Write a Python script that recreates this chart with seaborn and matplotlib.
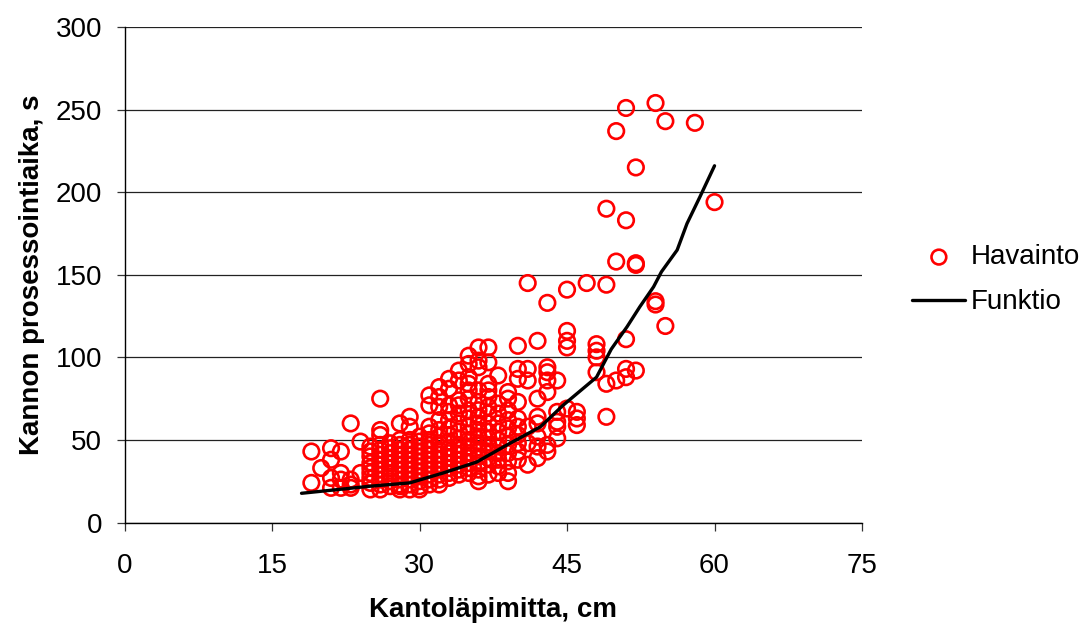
import matplotlib
matplotlib.use("Agg")
import matplotlib.pyplot as plt
import numpy as np
import pandas as pd
import seaborn as sns

# Observations: stump diameter (cm) -> list of processing times (s)
obs_by_diameter = {
    19: [43, 24],
    20: [33],
    21: [45, 38, 27, 21],
    22: [43, 30, 26, 21],
    23: [60, 26, 23, 21],
    24: [49, 30],
    25: [46, 43, 40, 36, 33, 30, 27, 24, 20],
    26: [75, 56, 53, 47, 44, 41, 38, 35, 32, 29, 26, 23, 20],
    27: [48, 45, 42, 39, 36, 33, 30, 28, 25, 22],
    28: [60, 50, 47, 44, 41, 38, 35, 32, 29, 26, 23, 20, 22],
    29: [64, 58, 50, 47, 44, 41, 38, 35, 32, 29, 26, 23, 20],
    30: [52, 49, 46, 43, 40, 37, 34, 31, 28, 25, 22, 20],
    31: [77, 71, 58, 54, 50, 47, 44, 41, 38, 35, 32, 29, 26, 23],
    32: [82, 76, 70, 62, 56, 52, 48, 44, 41, 38, 35, 32, 29, 26, 23],
    33: [87, 81, 71, 67, 62, 57, 53, 49, 45, 42, 39, 36, 33, 30, 27],
    34: [92, 86, 74, 71, 66, 60, 55, 51, 47, 44, 41, 38, 35, 32, 29],
    35: [101, 96, 88, 84, 80, 75, 68, 63, 58, 54, 50, 46, 42, 39, 36, 33, 30],
    36: [106, 98, 94, 80, 73, 68, 64, 60, 56, 52, 48, 44, 40, 36, 32, 28, 25],
    37: [106, 97, 84, 80, 76, 70, 66, 60, 55, 51, 47, 43, 39, 35, 29],
    38: [89, 72, 66, 60, 55, 50, 46, 42, 38, 34, 30],
    39: [79, 75, 68, 62, 57, 52, 47, 42, 37, 30, 25],
    40: [107, 93, 87, 73, 63, 58, 53, 48, 43, 38],
    41: [145, 93, 86, 58, 48, 35],
    42: [110, 75, 64, 60, 52, 46, 39],
    43: [133, 94, 91, 86, 79, 47, 43],
    44: [86, 67, 61, 58, 51],
    45: [141, 116, 110, 106, 69],
    46: [67, 63, 59],
    47: [145],
    48: [108, 104, 100, 91],
    49: [190, 144, 84, 64],
    50: [237, 158, 86],
    51: [251, 183, 111, 93, 88],
    52: [215, 157, 156, 92],
    54: [254, 134, 132],
    55: [243, 119],
    58: [242],
    60: [194],
}

# Fitted function, evaluated along the diameter range
func_x = [18, 25, 29, 32.4, 35.8, 38.9, 42.3, 44.6, 48, 49.5, 51.1, 52.4,
          53.8, 54.6, 56.2, 57.2, 58.5, 60]
func_y = [17.7, 22, 24, 30, 36.6, 47, 58, 71, 88, 105, 118.5, 130.6,
          142.7, 151.8, 165, 181, 197, 216]

x_ticks = [0, 15, 30, 45, 60, 75]
y_ticks = [0, 50, 100, 150, 200, 250, 300]

obs = pd.DataFrame(
    [(d, t) for d, ts in obs_by_diameter.items() for t in ts],
    columns=["diameter", "time"],
)
func = pd.DataFrame({"diameter": func_x, "time": func_y})

sns.set_theme(style="white")
plt.rcParams["font.family"] = ["Liberation Sans", "DejaVu Sans"]

fig = plt.figure(figsize=(10.82, 6.26), dpi=100)
ax = fig.add_axes([0.1151, 0.1653, 0.6816, 0.7915])

sns.scatterplot(
    data=obs, x="diameter", y="time", ax=ax,
    marker="o", s=125, facecolors="none", edgecolor="#ff0000",
    linewidth=1.9, label="Havainto", zorder=3,
)
sns.lineplot(
    data=func, x="diameter", y="time", ax=ax,
    sort=False, estimator=None, color="black", linewidth=2.4,
    label="Funktio", zorder=4,
)

ax.set_xlim(0, 75)
ax.set_ylim(0, 300)
ax.set_xticks(x_ticks)
ax.set_yticks(y_ticks)
ax.yaxis.grid(True, color="#222222", linewidth=0.9)
ax.xaxis.grid(False)
ax.set_axisbelow(True)

for side in ("top", "right"):
    ax.spines[side].set_visible(False)
for side in ("left", "bottom"):
    ax.spines[side].set_color("black")
    ax.spines[side].set_linewidth(1.0)

ax.tick_params(axis="y", direction="out", length=6, width=0.9, color="#333333",
               labelsize=20, labelcolor="black", pad=10, left=True)
ax.tick_params(axis="x", direction="out", length=6, width=0.9, color="#333333",
               labelsize=20, labelcolor="black", pad=16, bottom=True)

ax.set_xlabel("Kantoläpimitta, cm", fontsize=20, fontweight="bold",
              color="black", labelpad=13)
ax.set_ylabel("Kannon prosessointiaika, s", fontsize=20, fontweight="bold",
              color="black", labelpad=8)

handles, labels = ax.get_legend_handles_labels()
ax.legend_.remove()
leg = fig.legend(
    handles, labels, loc="center left", bbox_to_anchor=(0.8305, 0.553),
    frameon=False, fontsize=20, handlelength=1.9, handletextpad=0.18,
    labelspacing=0.68, borderpad=0, markerscale=0.95,
)
for t in leg.get_texts():
    t.set_color("black")

fig.savefig("out.png", dpi=100)
